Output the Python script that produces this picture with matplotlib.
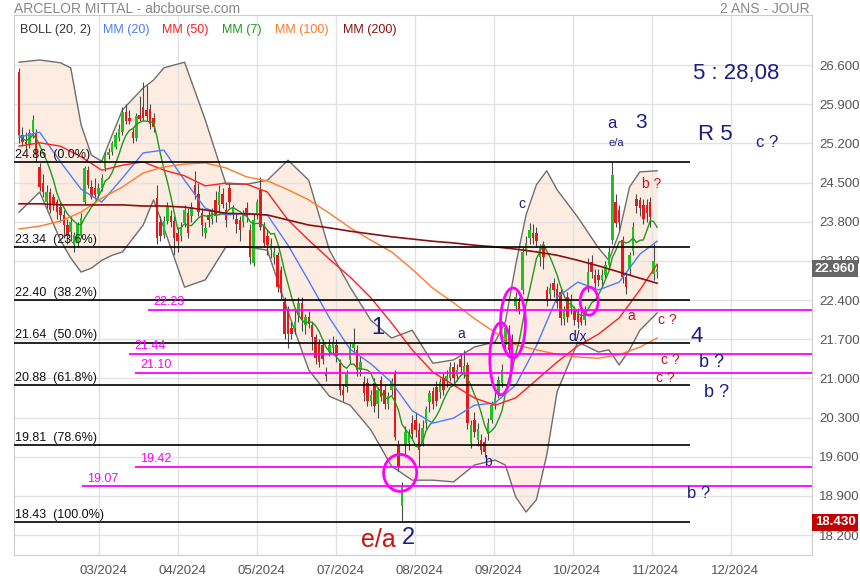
import numpy as np
import pandas as pd
import matplotlib
matplotlib.use('Agg')
import matplotlib.pyplot as plt
from matplotlib.patches import Ellipse
from matplotlib.ticker import FormatStrFormatter
from matplotlib.transforms import ScaledTranslation

plt.rcParams['font.family'] = ['Liberation Sans', 'DejaVu Sans']

# daily candles, oldest first
opens = [
    26.47, 25.35, 25.22, 25.18, 25.40, 25.38, 24.78, 24.50, 24.15, 24.33,
    24.24, 24.15, 24.07, 23.92, 23.74, 23.62, 23.38, 23.42, 23.56, 24.15,
    24.72, 24.42, 24.40, 24.30, 24.40, 24.76, 25.00, 25.05, 25.14, 25.30,
    25.40, 25.76, 25.65, 25.40, 25.30, 25.70, 25.85, 25.80, 25.82, 25.65,
    24.23, 23.80, 23.56, 23.82, 23.90, 23.82, 23.60,
    23.55, 23.78, 23.95, 23.90, 24.46, 24.30, 23.95, 23.60, 23.92, 23.85,
    24.19, 24.10, 24.30, 24.00, 24.40, 23.95, 23.85, 23.83, 23.80, 24.05,
    23.65, 23.07, 23.92, 24.37, 23.74, 23.55, 23.30, 23.17, 23.20, 22.94,
    22.36, 22.22, 21.90, 21.90, 22.13, 22.35, 21.95, 22.10, 21.95, 21.74,
    21.63, 21.60, 21.10, 21.47, 21.55, 21.60, 21.27,
    20.80, 20.85, 21.33, 21.55, 21.50, 21.15, 20.93, 20.92, 20.60, 20.92,
    20.55, 20.97, 20.80, 20.55, 20.80, 21.09, 19.81, 18.71, 19.81, 19.85,
    20.20, 20.25, 20.08, 19.85, 20.20, 20.58, 20.78, 20.85, 20.75, 21.00,
    20.95, 21.00, 21.20, 21.05, 21.35, 21.10, 21.24, 19.85, 20.25, 19.90,
    19.90, 19.86, 20.00, 20.26, 20.55, 20.74,
    20.92, 21.60, 21.86, 21.70, 22.30, 22.36, 22.58, 23.30, 23.50, 23.60,
    23.60, 23.17, 23.38, 22.58, 22.50, 22.70, 22.60, 22.54, 22.06, 22.45,
    22.25, 22.20, 22.15, 22.10, 22.05, 22.63, 23.08, 22.85, 22.85, 22.75,
    22.85, 23.03, 23.47, 24.15, 24.00, 23.47, 22.81, 22.95, 23.27, 24.20,
    24.18, 24.10, 24.10, 24.15, 22.86, 22.90,
]
highs = [
    26.55, 25.50, 25.40, 25.45, 25.70, 25.45, 24.85, 24.65, 24.45, 24.40,
    24.30, 24.20, 24.15, 24.00, 23.85, 23.90, 23.62, 23.80, 23.95, 24.80,
    24.80, 24.55, 24.58, 24.50, 24.65, 25.05, 25.12, 25.25, 25.40, 25.55,
    25.85, 25.90, 25.80, 25.50, 25.75, 26.05, 26.30, 26.25, 25.90, 25.75,
    24.45, 23.90, 23.90, 24.15, 24.00, 23.90, 23.70,
    23.80, 24.10, 24.05, 24.15, 24.70, 24.50, 24.05, 23.80, 24.00, 24.05,
    24.35, 24.45, 24.40, 24.15, 24.50, 24.10, 23.95, 23.90, 24.00, 24.15,
    23.75, 23.95, 24.20, 24.60, 23.80, 23.65, 23.50, 23.35, 23.25, 23.00,
    22.45, 22.30, 22.00, 22.25, 22.45, 22.45, 22.15, 22.20, 22.00, 21.80,
    21.70, 21.70, 21.20, 21.70, 21.75, 21.70, 21.35,
    20.90, 21.15, 21.65, 21.90, 21.60, 21.40, 21.05, 21.00, 20.80, 21.00,
    20.85, 21.05, 20.90, 20.75, 21.00, 21.15, 19.90, 19.15, 20.15, 20.10,
    20.35, 20.40, 20.20, 20.25, 20.50, 20.80, 20.85, 20.95, 21.00, 21.10,
    21.15, 21.30, 21.30, 21.25, 21.45, 21.50, 21.30, 20.25, 20.40, 20.20,
    20.00, 19.95, 20.30, 20.60, 20.75, 21.05,
    21.25, 21.95, 21.95, 21.80, 22.55, 22.45, 23.35, 23.55, 23.78, 23.75,
    23.70, 23.40, 23.45, 22.65, 22.70, 22.80, 22.70, 22.60, 22.30, 22.55,
    22.50, 22.30, 22.25, 22.20, 22.30, 23.15, 23.20, 22.95, 22.95, 22.95,
    23.10, 23.35, 24.87, 24.30, 24.10, 23.55, 22.90, 23.25, 23.80, 24.30,
    24.25, 24.20, 24.20, 24.25, 23.40, 23.05,
]
lows = [
    25.20, 25.15, 25.10, 25.12, 25.30, 24.88, 24.35, 24.25, 24.05, 23.95,
    24.00, 23.85, 23.80, 23.50, 23.40, 23.45, 23.26, 23.35, 23.50, 24.10,
    24.40, 24.20, 24.20, 24.22, 24.35, 24.70, 24.92, 25.00, 25.10, 25.25,
    25.35, 25.55, 25.55, 25.20, 25.25, 25.60, 25.60, 25.60, 25.45, 25.40,
    23.40, 23.45, 23.50, 23.75, 23.70, 23.20, 23.25,
    23.45, 23.70, 23.50, 23.80, 24.20, 23.90, 23.55, 23.50, 23.70, 23.75,
    23.80, 23.95, 24.05, 23.70, 24.05, 23.85, 23.60, 23.45, 23.70, 23.80,
    23.05, 23.00, 23.85, 23.65, 23.35, 23.20, 23.15, 23.05, 22.55, 22.40,
    21.70, 21.55, 21.70, 21.80, 22.00, 21.85, 21.80, 21.90, 21.50, 21.25,
    21.20, 21.25, 20.95, 21.40, 21.45, 21.30, 20.70,
    20.60, 20.75, 21.25, 21.45, 21.05, 21.05, 20.60, 20.50, 20.50, 20.40,
    20.30, 20.60, 20.45, 20.45, 20.70, 19.90, 19.35, 18.43, 19.60, 19.72,
    19.90, 19.95, 19.42, 19.80, 20.10, 20.40, 20.45, 20.50, 20.65, 20.70,
    20.85, 20.95, 20.90, 20.95, 21.10, 21.00, 20.10, 19.75, 19.95, 19.80,
    19.65, 19.60, 19.90, 20.20, 20.45, 20.65,
    20.85, 21.50, 21.45, 21.35, 22.20, 22.15, 22.50, 23.20, 23.40, 23.40,
    23.35, 23.00, 22.95, 22.30, 22.40, 22.45, 22.25, 21.95, 21.95, 22.00,
    22.15, 21.95, 21.90, 21.95, 21.95, 22.55, 22.80, 22.60, 22.65, 22.65,
    22.80, 22.95, 23.40, 23.70, 23.65, 22.70, 22.50, 22.85, 23.20, 23.95,
    23.90, 23.75, 23.80, 23.70, 22.75, 22.80,
]
closes = [
    25.35, 25.22, 25.18, 25.38, 25.62, 25.00, 24.42, 24.33, 24.33, 24.00,
    24.10, 23.97, 23.92, 23.74, 23.55, 23.80, 23.56, 23.75, 23.87, 24.76,
    24.45, 24.24, 24.28, 24.40, 24.58, 25.00, 25.05, 25.20, 25.35, 25.45,
    25.76, 25.60, 25.60, 25.30, 25.68, 25.64, 25.65, 25.68, 25.55, 25.50,
    23.50, 23.54, 23.82, 24.06, 23.80, 23.50, 23.45,
    23.70, 24.00, 23.60, 24.06, 24.28, 23.97, 23.74, 23.69, 23.83, 24.00,
    23.90, 24.33, 24.12, 23.83, 24.15, 24.05, 23.75, 23.65, 23.95, 23.90,
    23.17, 23.83, 24.15, 23.70, 23.42, 23.38, 23.40, 23.25, 22.63, 22.53,
    21.80, 21.80, 21.80, 22.00, 22.35, 22.05, 22.10, 21.98, 21.74, 21.36,
    21.30, 21.35, 21.05, 21.60, 21.65, 21.40, 20.79,
    20.70, 21.07, 21.56, 21.62, 21.15, 21.30, 20.74, 20.60, 20.70, 20.50,
    20.79, 20.67, 20.55, 20.68, 20.95, 19.95, 19.42, 19.06, 20.04, 20.00,
    20.00, 20.08, 19.72, 20.12, 20.45, 20.74, 20.55, 20.60, 20.93, 20.80,
    21.05, 21.20, 21.00, 21.15, 21.20, 21.22, 20.20, 20.17, 20.05, 20.10,
    19.72, 19.68, 20.20, 20.52, 20.65, 20.97,
    21.15, 21.90, 21.50, 21.45, 22.46, 22.22, 23.26, 23.42, 23.65, 23.50,
    23.45, 23.35, 23.17, 22.40, 22.62, 22.58, 22.35, 22.08, 22.20, 22.10,
    22.40, 22.05, 22.00, 22.00, 22.20, 22.90, 22.90, 22.70, 22.75, 22.85,
    23.03, 23.25, 24.63, 23.78, 23.80, 22.81, 22.63, 23.20, 23.70, 24.08,
    24.05, 23.85, 23.96, 23.88, 23.10, 22.96,
]

# moving averages, one value every 6 sessions (plus the last one)
line_idx = list(range(0, 181, 6)) + [185]
mm20 = [25.31, 25.40, 24.87, 24.38, 24.15, 24.58, 25.03, 25.08, 24.54, 24.04,
        23.92, 23.95, 23.92, 23.38, 22.74, 22.08, 21.52, 21.26, 20.93, 20.42,
        20.20, 20.29, 20.52, 20.56, 20.88, 21.58, 22.45, 22.72, 22.58, 22.72,
        23.22, 23.45]
mm50 = [25.15, 25.21, 25.15, 24.96, 24.72, 24.81, 24.87, 24.72, 24.62, 24.44,
        24.49, 24.47, 24.33, 23.83, 23.47, 23.13, 22.81, 22.44, 21.99, 21.51,
        21.11, 20.88, 20.65, 20.52, 20.65, 20.97, 21.29, 21.58, 21.79, 22.08,
        22.58, 23.04]
mm100 = [23.67, 23.72, 23.81, 23.97, 24.22, 24.42, 24.67, 24.78, 24.83, 24.85,
         24.76, 24.60, 24.53, 24.37, 24.19, 23.95, 23.69, 23.47, 23.26, 22.95,
         22.61, 22.35, 22.07, 21.82, 21.60, 21.51, 21.43, 21.38, 21.36, 21.42,
         21.56, 21.72]
mm200 = [24.12, 24.12, 24.10, 24.10, 24.10, 24.10, 24.08, 24.08, 24.06, 24.01,
         23.95, 23.94, 23.92, 23.83, 23.74, 23.69, 23.63, 23.58, 23.53, 23.49,
         23.45, 23.42, 23.38, 23.35, 23.31, 23.26, 23.20, 23.11, 23.01, 22.90,
         22.79, 22.70]

# Bollinger (20, 2) envelope
band_idx = [0, 6, 12, 15, 18, 21, 24, 27, 30, 36, 39, 42, 48, 54, 60, 66, 72,
            78, 84, 90, 96, 102, 108, 114, 120, 126, 132, 138, 141, 144, 147,
            150, 153, 156, 162, 168, 171, 174, 177, 180, 185]
boll_up = [26.65, 26.69, 26.64, 26.55, 25.53, 24.99, 24.88, 25.35, 25.80, 26.19,
           26.33, 26.55, 26.65, 25.62, 24.47, 24.47, 24.54, 24.90, 24.54, 23.29,
           22.63, 22.04, 21.72, 21.86, 21.27, 21.33, 21.56, 21.65, 22.01, 23.03,
           23.92, 24.46, 24.71, 24.37, 23.88, 23.33, 23.11, 23.60, 24.42, 24.69,
           24.71]
boll_dn = [23.97, 24.33, 23.47, 23.15, 22.90, 22.97, 23.11, 23.20, 23.26, 23.74,
           24.19, 23.69, 22.63, 22.76, 23.35, 23.35, 23.29, 22.19, 21.15, 20.68,
           20.52, 20.08, 19.43, 19.18, 19.18, 19.15, 19.45, 19.54, 19.45, 18.88,
           18.61, 18.83, 19.63, 20.76, 21.65, 21.47, 21.51, 21.24, 21.51, 21.86,
           22.17]

# Fibonacci retracement and support levels
fib_levels = [24.86, 23.34, 22.40, 21.64, 20.88, 19.81, 18.43]
fib_pct = ['0.0%', '23.6%', '38.2%', '50.0%', '61.8%', '78.6%', '100.0%']
mag_levels = [22.23, 21.44, 21.10, 19.42, 19.07]
mag_start = [37.4, 31.9, 33.6, 33.6, 18.3]

month_ticks = [23.2, 46.1, 69.0, 91.9, 114.8, 137.7, 160.6, 183.5, 206.4]
month_labels = ['03/2024', '04/2024', '05/2024', '07/2024', '08/2024',
                '09/2024', '10/2024', '11/2024', '12/2024']

last_price = 22.96
low_price = 18.43

NAVY = '#1c1c86'
RED = '#cc1111'
MAG = '#ff00ff'
X0, X1 = -1.45, 229.9

fig = plt.figure(figsize=(8.6, 5.8), dpi=100)
ax = fig.add_axes([14 / 860, 25 / 580, 798 / 860, 540 / 580])
ax.set_xlim(X0, X1)
ax.set_ylim(17.843, 27.494)

ax.set_yticks(np.round(np.arange(18.2, 26.61, 0.7), 1))
ax.yaxis.tick_right()
ax.yaxis.set_major_formatter(FormatStrFormatter('%.3f'))
ax.set_xticks(month_ticks)
ax.set_xticklabels(month_labels)
ax.tick_params(length=0, labelsize=9.5, labelcolor='#555555')
ax.tick_params(axis='y', pad=5)
ax.tick_params(axis='x', pad=7)
offset = ScaledTranslation(4 / 100, 0, fig.dpi_scale_trans)
for lab in ax.get_xticklabels():
    lab.set_transform(lab.get_transform() + offset)
ax.grid(color='#e2e2e2', lw=1)
ax.set_axisbelow(True)
for sp in ax.spines.values():
    sp.set_color('#cccccc')

# Bollinger bands
ax.fill_between(band_idx, boll_dn, boll_up, color='#fdece1', lw=0, zorder=0.2)
ax.plot(band_idx, boll_up, color='#6e6e6e', lw=1, zorder=1)
ax.plot(band_idx, boll_dn, color='#6e6e6e', lw=1, zorder=1)

# candles
idx = np.arange(len(closes))
o = np.array(opens)
c = np.array(closes)
body_col = np.where(c >= o, '#22c022', '#e01c1c')
ax.vlines(idx, lows, highs, color='#4a4a4a', lw=0.8, zorder=3)
ax.bar(idx, np.maximum(np.abs(c - o), 0.02), bottom=np.minimum(o, c),
       width=0.72, color=body_col, zorder=4)

# moving averages
mm7 = pd.Series(closes).rolling(7, min_periods=1).mean()
ax.plot(idx, mm7, color='#1e9a1e', lw=1, zorder=5)
ax.plot(line_idx, mm20, color='#4d7dff', lw=1, zorder=5)
ax.plot(line_idx, mm50, color='#ff1f1f', lw=1, zorder=5)
ax.plot(line_idx, mm100, color='#ff7a26', lw=1, zorder=5)
ax.plot(line_idx, mm200, color='#8b0f0f', lw=1.2, zorder=5)

# retracement lines
ax.hlines(fib_levels, X0, 194.5, color='black', lw=1.2, zorder=6)
for lvl, pct in zip(fib_levels, fib_pct):
    ax.annotate(f'{lvl:.2f}  ({pct})', xy=(X0, lvl), xytext=(1, 1),
                textcoords='offset points', ha='left', va='bottom',
                fontsize=9, color='#111111', zorder=7)
for lvl, x0 in zip(mag_levels, mag_start):
    ax.hlines(lvl, x0, X1, color=MAG, lw=1.3, zorder=6)
    ax.annotate(f'{lvl:.2f}', xy=(x0 + 1.5, lvl), xytext=(0, 1),
                textcoords='offset points', ha='left', va='bottom',
                fontsize=9, color=MAG, zorder=7)

# circled zones
for cx, cy, w, h in [(110.5, 19.31, 9.6, 0.66), (139.7, 21.35, 6.4, 1.29),
                     (143.2, 21.99, 7.2, 1.25), (165.3, 22.38, 5.2, 0.50)]:
    ax.add_patch(Ellipse((cx, cy), w, h, fill=False, ec=MAG, lw=2, zorder=8))

# wave counts
labels = [
    ('1', 104.1, 21.90, 17, NAVY), ('a', 128.2, 21.79, 10, NAVY),
    ('b', 136.0, 19.50, 10, NAVY), ('c', 145.8, 24.12, 10, NAVY),
    ('d/x', 162.1, 21.74, 10, NAVY), ('a', 177.4, 22.11, 10, RED),
    ('c ?', 187.9, 22.04, 10, RED), ('c ?', 188.7, 21.33, 10, RED),
    ('c ?', 187.3, 21.01, 10, RED), ('b ?', 183.5, 24.47, 10, RED),
    ('a', 171.9, 25.55, 12, NAVY), ('e/a', 173.3, 25.21, 8, NAVY),
    ('3', 180.3, 25.58, 15, NAVY), ('R 5', 201.8, 25.35, 16, NAVY),
    ('c ?', 216.9, 25.22, 12, NAVY), ('5 : 28,08', 207.9, 26.44, 16, NAVY),
    ('4', 196.6, 21.74, 16, NAVY), ('b ?', 200.9, 21.29, 13, NAVY),
    ('b ?', 202.1, 20.74, 13, NAVY), ('b ?', 196.9, 18.95, 12, NAVY),
    ('e/a', 104.1, 18.11, 18, RED), ('2', 112.8, 18.15, 17, NAVY),
]
for txt, x, y, fs, col in labels:
    ax.text(x, y, txt, ha='center', va='center', fontsize=fs, color=col,
            zorder=9)

# price tags on the axis
for val, col in [(last_price, '#666666'), (low_price, '#c40000')]:
    ax.annotate(f'{val:.3f}', xy=(1, val), xycoords=('axes fraction', 'data'),
                xytext=(2, 0), textcoords='offset points', ha='left',
                va='center', fontsize=9.5, fontweight='bold', color='white',
                bbox=dict(boxstyle='square,pad=0.2', fc=col, ec='none'),
                annotation_clip=False, zorder=10)

# header and legend row
fig.text(14 / 860, 1 - 9 / 580, 'ARCELOR MITTAL - abcbourse.com', ha='left',
         va='center', fontsize=10, color='#888888')
fig.text(810 / 860, 1 - 9 / 580, '2 ANS - JOUR', ha='right', va='center',
         fontsize=10, color='#888888')
legend = [('BOLL (20, 2)', '#333333', 20), ('MM (20)', '#4d7dff', 103),
          ('MM (50)', '#ff1f1f', 162), ('MM (7)', '#1e9a1e', 222),
          ('MM (100)', '#ff7a26', 275), ('MM (200)', '#8b0f0f', 343)]
for txt, col, px in legend:
    fig.text(px / 860, 1 - 30 / 580, txt, ha='left', va='center',
             fontsize=9, color=col)

fig.savefig('out.png', dpi=100)
